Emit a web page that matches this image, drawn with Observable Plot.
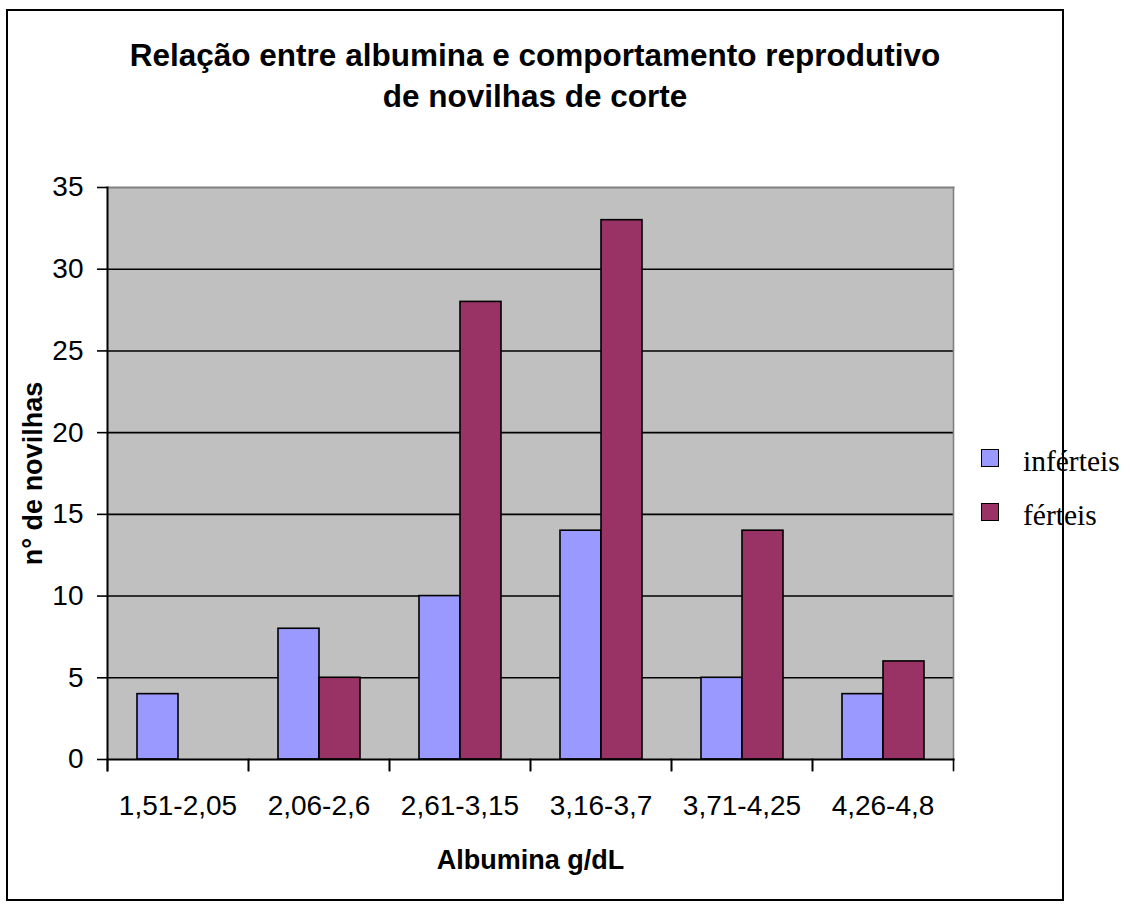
<!DOCTYPE html>
<html>
<head>
<meta charset="utf-8">
<script src="https://cdn.jsdelivr.net/npm/d3@7"></script>
<script src="https://cdn.jsdelivr.net/npm/@observablehq/plot@0.6"></script>
<style>
  html, body { margin: 0; padding: 0; background: #fff; }
  #wrap { position: relative; width: 1132px; height: 904px; overflow: hidden; font-family: "Liberation Sans", Arial, sans-serif; }
  #border { position: absolute; left: 6px; top: 9px; width: 1054px; height: 888px; border: 2px solid #000; pointer-events: none; }
  #chart { position: absolute; left: 0; top: 0; }
  .title { position: absolute; left: 0; width: 1070px; text-align: center; font-weight: bold; font-size: 31.5px; line-height: 1; white-space: nowrap; }
  .legend-item { position: absolute; font-family: "Liberation Serif", "Times New Roman", serif; font-size: 29.5px; line-height: 1; white-space: nowrap; }
  .swatch { position: absolute; width: 16px; height: 16px; border: 1.5px solid #000; }
  svg g[aria-label="y-axis label"] text, svg g[aria-label="fx-axis label"] text { font-weight: bold; font-size: 27px; }
</style>
</head>
<body>
<div id="wrap">
  <div id="chart"></div>
  <div id="border"></div>
  <div class="title" style="top:40px">Relação entre albumina e comportamento reprodutivo</div>
  <div class="title" style="top:81px">de novilhas de corte</div>
  <div id="legend"></div>
</div>
<script>
const categories = ["1,51-2,05", "2,06-2,6", "2,61-3,15", "3,16-3,7", "3,71-4,25", "4,26-4,8"];
const series = ["inférteis", "férteis"];
const inferteis = [4, 8, 10, 14, 5, 4];
const ferteis = [0, 5, 28, 33, 14, 6];
const seriesColors = ["#9999ff", "#993366"];
const yTicks = [0, 5, 10, 15, 20, 25, 30, 35];
const gridTicks = [5, 10, 15, 20, 25, 30];

const seriesValues = [inferteis, ferteis];
const table = categories.flatMap((c, i) => series.map((s, j) => ({cat: c, serie: s, n: seriesValues[j][i]})));

const W = 1132, H = 904, mL = 107, mR = 179, mT = 187, mB = 145;
const plotH = H - mT - mB;

const chart = Plot.plot({
  width: W, height: H,
  marginLeft: mL, marginRight: mR, marginTop: mT, marginBottom: mB,
  style: {fontFamily: '"Liberation Sans", Arial, sans-serif', fontSize: "28px", background: "transparent", color: "#000"},
  fx: {domain: categories, padding: 0, label: null},
  x: {domain: series, paddingInner: 0, paddingOuter: 0.716, axis: null},
  y: {domain: [0, 35], axis: null},
  color: {domain: series, range: seriesColors},
  marks: [
    Plot.frame({facet: "super", fill: "#c0c0c0", stroke: "none"}),
    Plot.ruleY(gridTicks, {stroke: "#000", strokeWidth: 1.6}),
    Plot.barY(table, {fx: "cat", x: "serie", y: "n", fill: "serie", stroke: "#000", strokeWidth: 1.6}),
    Plot.frame({facet: "super", anchor: "top", stroke: "#808080", strokeWidth: 2}),
    Plot.frame({facet: "super", anchor: "right", stroke: "#808080", strokeWidth: 1.6}),
    Plot.frame({facet: "super", anchor: "bottom", stroke: "#000", strokeWidth: 2}),
    Plot.frame({facet: "super", anchor: "left", stroke: "#000", strokeWidth: 2, insetBottom: -11}),
    Plot.frame({anchor: "left", stroke: "#000", strokeWidth: 1.6, insetTop: plotH, insetBottom: -11}),
    Plot.frame({anchor: "right", stroke: "#000", strokeWidth: 1.6, insetTop: plotH, insetBottom: -11}),
    Plot.axisY({ticks: yTicks, tickSize: 10, tickPadding: 14, strokeWidth: 1.6, label: "n° de novilhas", labelAnchor: "center", labelOffset: 85, labelArrow: "none"}),
    Plot.axisFx({anchor: "bottom", tickSize: 0, tickPadding: 36, label: "Albumina g/dL", labelAnchor: "center", labelOffset: 109, labelArrow: "none"})
  ]
});
document.getElementById("chart").appendChild(chart);

const legend = document.getElementById("legend");
const legendTops = [449, 503];
series.forEach((s, j) => {
  const sw = document.createElement("div");
  sw.className = "swatch";
  sw.style.left = "981px";
  sw.style.top = legendTops[j] + "px";
  sw.style.background = seriesColors[j];
  legend.appendChild(sw);
  const t = document.createElement("div");
  t.className = "legend-item";
  t.style.left = "1023px";
  t.style.top = (legendTops[j] - 2) + "px";
  t.textContent = s;
  legend.appendChild(t);
});
</script>
</body>
</html>
